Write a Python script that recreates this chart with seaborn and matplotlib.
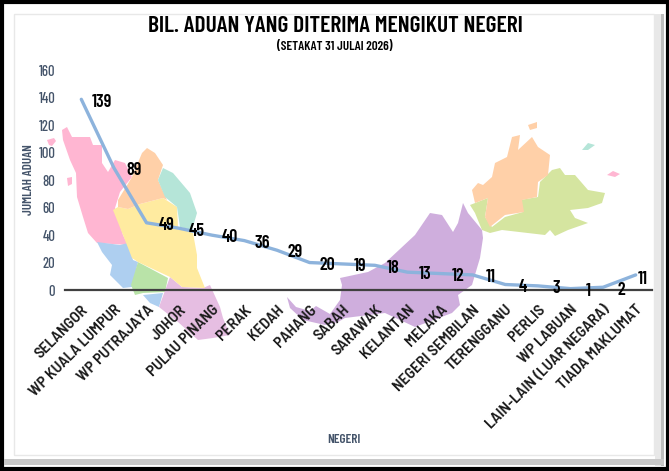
import matplotlib
matplotlib.use("Agg")
import matplotlib.pyplot as plt
from matplotlib.patches import Polygon, Rectangle
import pandas as pd
import seaborn as sns

states = ["SELANGOR", "WP KUALA LUMPUR", "WP PUTRAJAYA", "JOHOR", "PULAU PINANG", "PERAK",
          "KEDAH", "PAHANG", "SABAH", "SARAWAK", "KELANTAN", "MELAKA", "NEGERI SEMBILAN",
          "TERENGGANU", "PERLIS", "WP LABUAN", "LAIN-LAIN (LUAR NEGARA)", "TIADA MAKLUMAT"]
complaints = [139, 89, 49, 45, 40, 36, 29, 20, 19, 18, 13, 12, 11, 4, 3, 1, 2, 11]
y_ticks = [0, 20, 40, 60, 80, 100, 120, 140, 160]

W, H = 669, 471
sns.set_theme(style="white")
FONT = ["Barlow Condensed", "Roboto", "DejaVu Sans"]
FONT_WIDE = ["Barlow Semi Condensed", "Roboto", "DejaVu Sans"]
plt.rcParams["font.family"] = FONT

fig = plt.figure(figsize=(W / 100, H / 100), dpi=100, facecolor="white")

# decorative layer in pixel space: picture frame and background map
bg = fig.add_axes([0, 0, 1, 1], zorder=0)
bg.set_xlim(0, W)
bg.set_ylim(H, 0)
bg.axis("off")

map_shapes = [
    ("#FFB6D2", [(62,130),(67,127),(72,137),(90,137),(93,145),(102,145),(102,163),(108,172),(115,160),(125,163),(132,177),(120,192),(115,208),(123,235),(128,245),(97,243),(88,233),(83,217),(77,197),(76,173),(70,160),(63,140)]),
    ("#FFB6D2", [(47,140),(54,138),(56,141),(52,146),(49,145)]),
    ("#FFB6D2", [(67,178),(72,177),(72,184),(68,186)]),
    ("#AECFF0", [(97,242),(120,245),(128,243),(133,260),(138,262),(132,287),(123,288),(115,280),(110,275),(112,265),(102,252)]),
    ("#B9E3A8", [(138,262),(168,278),(165,292),(143,293),(135,295),(131,285)]),
    ("#AECFF0", [(143,295),(163,293),(159,307),(150,303)]),
    ("#E6BEE2", [(170,277),(182,287),(203,288),(210,285),(220,307),(223,318),(230,335),(213,338),(198,340),(178,322),(159,307)]),
    ("#FFEBA0", [(113,210),(118,207),(128,209),(140,204),(163,198),(177,207),(178,227),(193,233),(197,255),(197,268),(205,288),(182,287),(170,277),(138,262),(132,258),(123,235)]),
    ("#FFD0A8", [(118,200),(132,177),(142,153),(147,148),(155,153),(163,165),(158,180),(167,200),(163,198),(140,204),(128,209),(118,207)]),
    ("#B5E5D8", [(163,168),(173,173),(190,193),(197,213),(192,230),(180,227),(177,207),(165,197),(158,180)]),
    ("#CFAEDD", [(287,297),(296,307),(310,311),(316,306),(330,314),(340,300),(342,285),(340,278),(368,272),(385,263),(415,235),(430,213),(442,215),(453,232),(458,223),(463,203),(468,213),(482,230),(483,238),(480,258),(477,268),(472,285),(458,295),(460,305),(452,313),(415,327),(385,313),(345,318),(338,322),(325,325),(303,320),(290,308)]),
    ("#D5E5A0", [(470,205),(488,198),(485,217),(492,227),(505,217),(523,212),(520,200),(538,197),(540,182),(552,170),(560,168),(565,175),(575,175),(588,190),(605,193),(602,203),(588,208),(570,210),(575,218),(588,223),(568,230),(555,236),(550,230),(545,235),(502,230),(490,233),(482,230),(475,213)]),
    ("#FFD0A8", [(472,190),(478,183),(483,185),(492,177),(495,163),(507,157),(512,137),(520,135),(518,150),(532,137),(538,147),(550,155),(548,175),(538,182),(537,197),(522,200),(524,212),(505,215),(490,227),(485,217),(488,198),(475,203)]),
    ("#FFD0A8", [(528,125),(537,122),(537,128),(530,130)]),
    ("#B5E5D8", [(582,150),(588,143),(595,145),(588,150)]),
    ("#FFB6D2", [(607,175),(613,171),(620,174),(615,177)]),
]
for colour, pts in map_shapes:
    bg.add_patch(Polygon(pts, closed=True, facecolor=colour, edgecolor="none"))

bg.add_patch(Rectangle((1.5, 2), W - 3, H - 4, fill=False, edgecolor="black", linewidth=3))
bg.add_patch(Rectangle((14, 14), 640, 441, fill=False, edgecolor="#E8E8E8", linewidth=1))
bg.add_patch(Rectangle((655, 14), 9, 452, facecolor="#BDBDBD", edgecolor="none"))
bg.add_patch(Rectangle((655, 14), 6, 452, facecolor="#E8E8E8", edgecolor="none"))
bg.add_patch(Rectangle((4, 459), 660, 6, facecolor="#C8C8C8", edgecolor="none"))

# chart layer
left, right, top, bottom = 65, 652, 70.5, 290
ax = fig.add_axes([left / W, 1 - bottom / H, (right - left) / W, (bottom - top) / H], zorder=1)
ax.patch.set_alpha(0)

df = pd.DataFrame({"Negeri": states, "Aduan": complaints})
sns.lineplot(data=df, x="Negeri", y="Aduan", ax=ax, color="#8DB3DC", linewidth=2.4,
             solid_capstyle="round", solid_joinstyle="round", sort=False)
ax.set_xlim(-0.5, len(states) - 0.5)
ax.set_ylim(0, 160)
ax.set_yticks(y_ticks)
ax.tick_params(axis="both", length=0)
ax.tick_params(axis="y", labelsize=10.5, labelcolor="#44546A", pad=7)
for t in ax.get_yticklabels():
    t.set_fontweight(500)
ax.set_xticks(range(len(states)))
ax.set_xticklabels(states, rotation=45, ha="right", va="top", rotation_mode="anchor",
                   fontsize=11.5, fontweight=600, color="#1A1A1A", family=FONT_WIDE)
ax.tick_params(axis="x", pad=9)
for s in ["top", "left", "right"]:
    ax.spines[s].set_visible(False)
ax.spines["bottom"].set_color("#404040")
ax.spines["bottom"].set_linewidth(1.6)
ax.set_xlabel("")
ax.set_ylabel("")
ax.grid(False)

for i, v in enumerate(complaints):
    dx, dy = (5, -3) if i == len(complaints) - 1 else ((14.5, -2) if i < 3 else (13, -2))
    ax.annotate(str(v), (i, v), xytext=(dx, dy), textcoords="offset points", ha="center",
                va="center", fontsize=13, fontweight=600, color="black",
                annotation_clip=False, zorder=5)

fig.text(335 / W, 1 - 26.5 / H, "BIL. ADUAN YANG DITERIMA MENGIKUT NEGERI", ha="center", va="center",
         fontsize=17, fontweight=600, color="black")
fig.text(334.5 / W, 1 - 47 / H, "(SETAKAT 31 JULAI 2026)", ha="center", va="center",
         fontsize=9.5, fontweight=600, color="black")
fig.text(29 / W, 1 - 180 / H, "JUMLAH ADUAN", rotation=90, ha="center", va="center",
         fontsize=9.5, fontweight=600, color="#44546A")
fig.text(344 / W, 1 - 440 / H, "NEGERI", ha="center", va="center",
         fontsize=9.5, fontweight=600, color="#44546A")

fig.savefig("out.png", dpi=100)
